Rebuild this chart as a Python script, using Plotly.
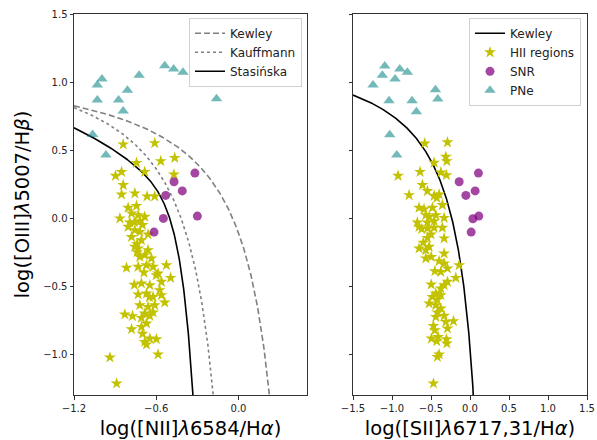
import numpy as np
import plotly.graph_objects as go

# ---------------- data ----------------
# Left panel (BPT [NII])
hii_nii_x = [-0.841, -0.611, -0.744, -0.567, -0.465, -0.684, -0.897, -0.853, -0.471, -0.841,
             -0.853, -0.756, -0.667, -0.611, -0.805, -0.744, -0.865, -0.780, -0.732, -0.684,
             -0.793, -0.720, -0.805, -0.756, -0.720, -0.780, -0.708, -0.756, -0.732, -0.660,
             -0.720, -0.684, -0.635, -0.732, -0.671, -0.623, -0.817, -0.526, -0.587, -0.495,
             -0.708, -0.647, -0.562, -0.575, -0.732, -0.671, -0.623, -0.562, -0.538, -0.720,
             -0.660, -0.611, -0.829, -0.684, -0.623, -0.773, -0.708, -0.647, -0.671, -0.708,
             -0.780, -0.684, -0.647, -0.599, -0.671, -0.938, -0.587, -0.889,
             -0.760, -0.700, -0.660, -0.740, -0.690, -0.760, -0.600, -0.650, -0.700, -0.740]
hii_nii_y = [0.542, 0.551, 0.406, 0.419, 0.443, 0.340, 0.311, 0.340, 0.321, 0.243,
             0.174, 0.182, 0.160, 0.160, 0.076, 0.090, -0.002, 0.035, 0.022, 0.010,
             -0.032, -0.022, -0.064, -0.088, -0.101, -0.138, -0.162, -0.211, -0.223, -0.235,
             -0.285, -0.272, -0.296, -0.358, -0.346, -0.358, -0.365, -0.346, -0.407, -0.439,
             -0.480, -0.493, -0.468, -0.529, -0.561, -0.554, -0.579, -0.566, -0.620, -0.640,
             -0.652, -0.640, -0.708, -0.701, -0.693, -0.720, -0.733, -0.718, -0.774, -0.799,
             -0.816, -0.910, -0.885, -0.890, -0.929, -1.024, -1.002, -1.215,
             -0.030, -0.050, -0.120, -0.190, -0.400, -0.490, -0.420, -0.580, -0.850, -0.250]

snr_nii_x = [-0.318, -0.470, -0.410, -0.531, -0.300, -0.548, -0.616]
snr_nii_y = [0.331, 0.267, 0.200, 0.167, 0.015, -0.002, -0.103]

pne_nii_x = [-0.538, -0.473, -0.405, -0.725, -0.996, -1.030, -0.810, -1.030, -0.875, -0.841,
             -0.160, -1.064, -0.967]
pne_nii_y = [1.120, 1.096, 1.071, 1.050, 1.022, 0.978, 0.940, 0.868, 0.868, 0.787,
             0.877, 0.615, 0.463]

# Right panel (BPT [SII])
hii_sii_x = [-0.580, -0.289, -0.310, -0.297, -0.460, -0.922, -0.640, -0.374, -0.302, -0.610,
             -0.546, -0.781, -0.460, -0.396, -0.426, -0.354, -0.653, -0.589, -0.482, -0.567,
             -0.524, -0.438, -0.332, -0.675, -0.546, -0.460, -0.653, -0.546, -0.460, -0.354,
             -0.546, -0.332, -0.653, -0.567, -0.524, -0.332, -0.567, -0.497, -0.396, -0.332,
             -0.289, -0.374, -0.139, -0.182, -0.289, -0.332, -0.374, -0.497, -0.438, -0.482,
             -0.374, -0.524, -0.438, -0.374, -0.418, -0.438, -0.332, -0.310, -0.212, -0.469,
             -0.451, -0.289, -0.495, -0.409, -0.426, -0.302, -0.297, -0.418, -0.396, -0.469,
             -0.620, -0.500, -0.450, -0.600, -0.420]
hii_sii_y = [0.549, 0.557, 0.451, 0.419, 0.407, 0.311, 0.340, 0.336, 0.316, 0.243,
             0.199, 0.169, 0.164, 0.174, 0.149, 0.096, 0.076, 0.066, 0.076, 0.022,
             0.010, 0.022, 0.002, -0.032, -0.032, -0.022, -0.064, -0.076, -0.071, -0.071,
             -0.145, -0.149, -0.223, -0.235, -0.211, -0.260, -0.296, -0.285, -0.316, -0.333,
             -0.370, -0.395, -0.346, -0.439, -0.468, -0.493, -0.517, -0.488, -0.554, -0.579,
             -0.566, -0.627, -0.640, -0.664, -0.693, -0.726, -0.718, -0.763, -0.757, -0.792,
             -0.824, -0.811, -0.885, -0.873, -0.904, -0.890, -0.921, -1.020, -1.002, -1.215,
             -0.080, -0.120, -0.390, -0.180, -0.600]

snr_sii_x = [0.108, -0.139, 0.066, -0.053, 0.113, 0.037, 0.015]
snr_sii_y = [0.331, 0.267, 0.200, 0.167, 0.015, -0.005, -0.103]

pne_sii_x = [-1.093, -0.900, -0.803, -1.124, -0.961, -1.243, -0.443, -1.038, -0.743, -0.413,
             -0.687, -1.029, -0.939]
pne_sii_y = [1.118, 1.096, 1.071, 1.050, 1.022, 0.978, 0.943, 0.862, 0.862, 0.875,
             0.782, 0.613, 0.463]

# Demarcation line definitions (standard published relations)
kewley_nii = dict(a=0.61, b=0.47, c=1.19)
kauffmann_nii = dict(a=0.61, b=0.05, c=1.30)
stasinska_coef = [-30.787, 1.1358, 0.27297, 5.7409, -31.093]
kewley_sii = dict(a=0.72, b=0.32, c=1.30)

x_left_range = [-1.2, 0.5]
x_right_range = [-1.5, 1.5]
y_range = [-1.3, 1.5]

# ---------------- curves ----------------
xk = np.linspace(-1.2, 0.30, 400)
yk = kewley_nii["a"] / (xk - kewley_nii["b"]) + kewley_nii["c"]
xka = np.linspace(-1.2, -0.06, 400)
yka = kauffmann_nii["a"] / (xka - kauffmann_nii["b"]) + kauffmann_nii["c"]
xs = np.linspace(-1.2, -0.25, 400)
a0, a1, a2, a3, a4 = stasinska_coef
ys = (a0 + a1 * xs + a2 * xs ** 2) * np.tanh(a3 * xs) + a4
xks = np.linspace(-1.5, 0.20, 400)
yks = kewley_sii["a"] / (xks - kewley_sii["b"]) + kewley_sii["c"]

STAR = "#c2c200"
SNR = "rgba(128,0,128,0.72)"
PNE = "rgba(0,128,128,0.55)"

fig = go.Figure()

# Left panel lines
fig.add_trace(go.Scatter(x=xk, y=yk, mode="lines", name="Kewley",
                         line=dict(color="#808080", width=1.6, dash="6px,3px"),
                         xaxis="x", yaxis="y", legend="legend"))
fig.add_trace(go.Scatter(x=xka, y=yka, mode="lines", name="Kauffmann",
                         line=dict(color="#808080", width=1.6, dash="dot"),
                         xaxis="x", yaxis="y", legend="legend"))
fig.add_trace(go.Scatter(x=xs, y=ys, mode="lines", name="Stasińska",
                         line=dict(color="black", width=1.6),
                         xaxis="x", yaxis="y", legend="legend"))
# Left panel points
fig.add_trace(go.Scatter(x=hii_nii_x, y=hii_nii_y, mode="markers", showlegend=False,
                         marker=dict(symbol="star", size=9, color=STAR, line=dict(width=0)),
                         xaxis="x", yaxis="y"))
fig.add_trace(go.Scatter(x=snr_nii_x, y=snr_nii_y, mode="markers", showlegend=False,
                         marker=dict(symbol="circle", size=9, color=SNR, line=dict(width=0)),
                         xaxis="x", yaxis="y"))
fig.add_trace(go.Scatter(x=pne_nii_x, y=pne_nii_y, mode="markers", showlegend=False,
                         marker=dict(symbol="triangle-up", size=10, color=PNE, line=dict(width=0)),
                         xaxis="x", yaxis="y"))

# Right panel
fig.add_trace(go.Scatter(x=xks, y=yks, mode="lines", name="Kewley",
                         line=dict(color="black", width=1.6),
                         xaxis="x2", yaxis="y2", legend="legend2"))
fig.add_trace(go.Scatter(x=hii_sii_x, y=hii_sii_y, mode="markers", name="HII regions",
                         marker=dict(symbol="star", size=9, color=STAR, line=dict(width=0)),
                         xaxis="x2", yaxis="y2", legend="legend2"))
fig.add_trace(go.Scatter(x=snr_sii_x, y=snr_sii_y, mode="markers", name="SNR",
                         marker=dict(symbol="circle", size=9, color=SNR, line=dict(width=0)),
                         xaxis="x2", yaxis="y2", legend="legend2"))
fig.add_trace(go.Scatter(x=pne_sii_x, y=pne_sii_y, mode="markers", name="PNe",
                         marker=dict(symbol="triangle-up", size=10, color=PNE, line=dict(width=0)),
                         xaxis="x2", yaxis="y2", legend="legend2"))

tickfont = dict(family="DejaVu Sans", size=10, color="#222")
titlefont = dict(family="DejaVu Sans", size=19.5, color="black")
axcommon = dict(showgrid=False, zeroline=False, showline=True, linecolor="#333", linewidth=1,
                mirror=True, ticks="outside", ticklen=3.5, tickcolor="#333", tickfont=tickfont)

d1 = (307 - 74) / 513
d2 = (353 - 74) / 513

legfont = dict(family="DejaVu Sans", size=12, color="#222")

fig.update_layout(
    width=597, height=440,
    margin=dict(l=74, r=10, t=14, b=45, autoexpand=False),
    paper_bgcolor="white", plot_bgcolor="white",
    font=dict(family="DejaVu Sans"),
    xaxis=dict(domain=[0, d1], range=x_left_range, tickvals=[-1.2, -0.6, 0.0],
               ticktext=["−1.2", "−0.6", "0.0"],
               title=dict(text="log([NII]<i>λ</i>6584/H<i>α</i>)", font=titlefont, standoff=8),
               anchor="y", **axcommon),
    yaxis=dict(domain=[0, 1], range=y_range, tickvals=[-1.0, -0.5, 0.0, 0.5, 1.0, 1.5],
               ticktext=["−1.0", "−0.5", "0.0", "0.5", "1.0", "1.5"],
               title=dict(text="log([OIII]<i>λ</i>5007/H<i>β</i>)", font=titlefont, standoff=8),
               anchor="x", **axcommon),
    xaxis2=dict(domain=[d2, 1], range=x_right_range,
                tickvals=[-1.5, -1.0, -0.5, 0.0, 0.5, 1.0, 1.5],
                ticktext=["−1.5", "−1.0", "−0.5", "0.0", "0.5", "1.0", "1.5"],
                title=dict(text="log([SII]<i>λ</i>6717,31/H<i>α</i>)", font=titlefont, standoff=8),
                anchor="y2", **axcommon),
    yaxis2=dict(domain=[0, 1], range=y_range, tickvals=[-1.0, -0.5, 0.0, 0.5, 1.0, 1.5],
                showticklabels=False, anchor="x2", **axcommon),
    legend=dict(x=(302 - 74) / 513, xanchor="right", y=0.99, yanchor="top",
                bgcolor="rgba(255,255,255,0.85)", bordercolor="#d0d0d0", borderwidth=1,
                font=legfont, itemwidth=30, tracegroupgap=0),
    legend2=dict(x=(581 - 74) / 513, xanchor="right", y=0.99, yanchor="top",
                 bgcolor="rgba(255,255,255,0.85)", bordercolor="#d0d0d0", borderwidth=1,
                 font=legfont, itemwidth=30, tracegroupgap=0),
)

fig.write_html("out.html", config={"displayModeBar": False},
               post_script="document.body.style.margin='0';document.body.style.overflow='hidden';")
